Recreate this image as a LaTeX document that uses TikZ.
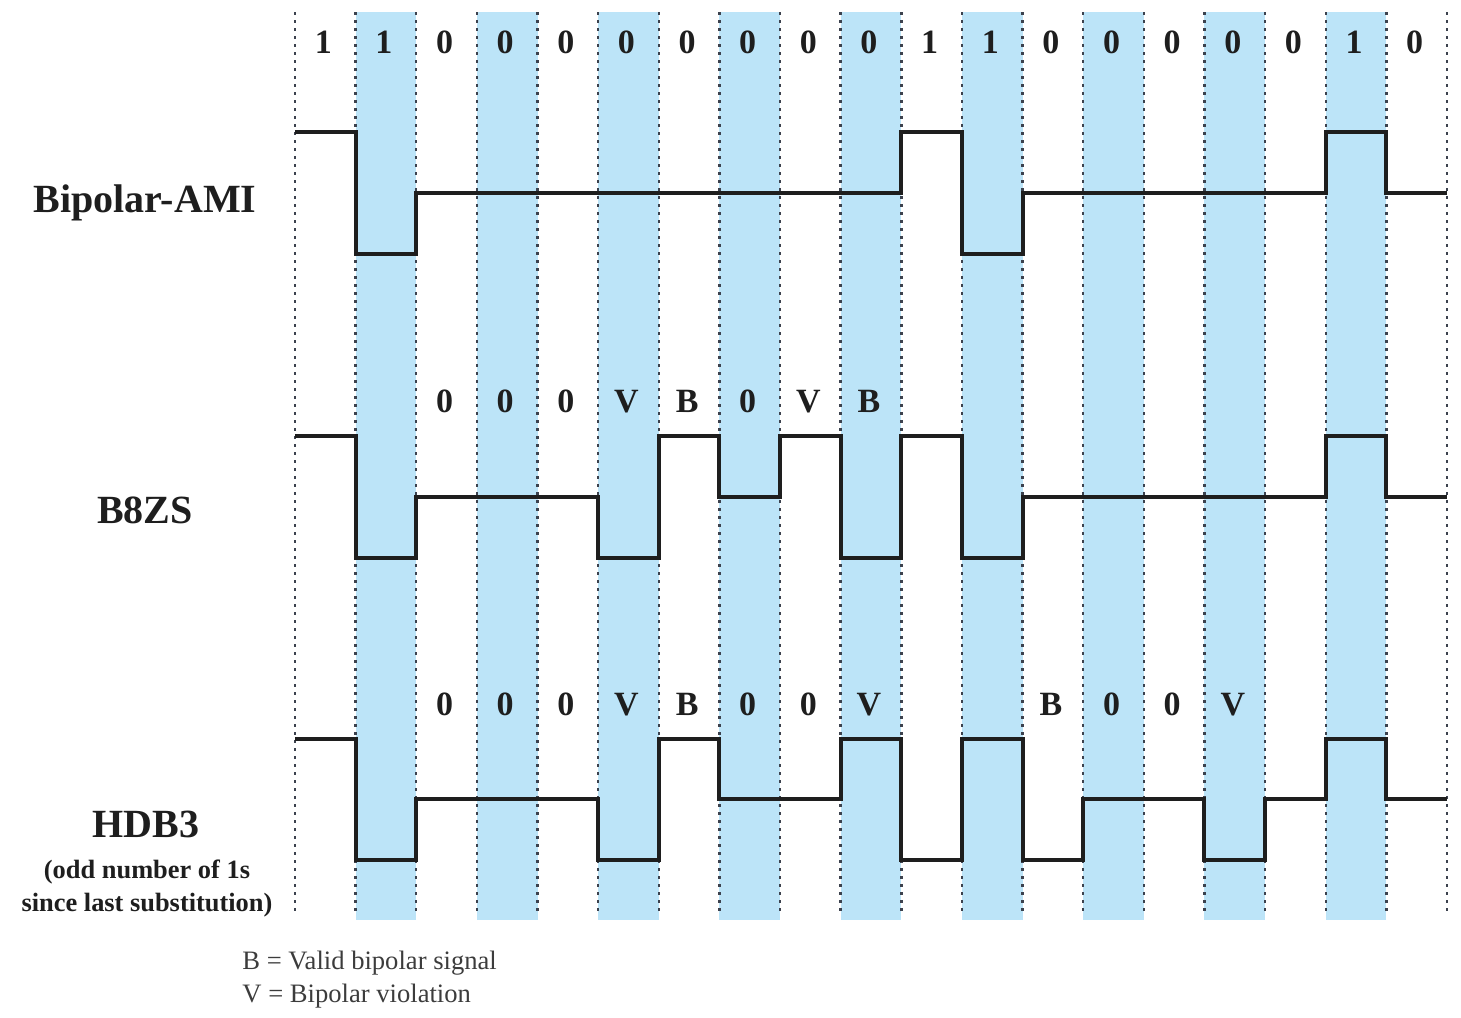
\documentclass[tikz,border=0pt]{standalone}
\usepackage{fontspec}
\setmainfont{Liberation Serif}
\usepackage{tikz}
\definecolor{band}{RGB}{188, 228, 248}
\definecolor{grid}{RGB}{60, 66, 78}
\definecolor{ink}{RGB}{30, 30, 30}
\definecolor{key}{RGB}{60, 60, 60}

\tikzset{
  bitlabel/.style={anchor=base, inner sep=0pt, text=ink,
                   font=\fontsize{17}{20}\selectfont\bfseries},
  codename/.style={anchor=base, inner sep=0pt, text=ink,
                   font=\fontsize{20}{24}\selectfont\bfseries},
  note/.style={anchor=base, inner sep=0pt, text=ink,
               font=\fontsize{13.2}{16}\selectfont\bfseries},
  keytext/.style={anchor=base west, inner sep=0pt, text=key,
                  font=\fontsize{13.3}{16}\selectfont},
  signal/.style={draw=ink, line width=2pt},
  gridline/.style={draw=grid, line width=1.2pt, dash pattern=on 1.5pt off 2.5pt}
}

\begin{document}
\begin{tikzpicture}[x=0.5pt, y=-0.5pt]

        \pgfmathsetmacro{\w}{60.63}
        \pgfmathsetmacro{\dx}{295}
        % levels (high, zero, low) of the three lines
        \pgfmathsetmacro{\ah}{132} \pgfmathsetmacro{\az}{193} \pgfmathsetmacro{\al}{254}
        \pgfmathsetmacro{\bh}{436} \pgfmathsetmacro{\bz}{497} \pgfmathsetmacro{\bl}{558}
        \pgfmathsetmacro{\hh}{739} \pgfmathsetmacro{\hz}{799} \pgfmathsetmacro{\hl}{860}

        \useasboundingbox (0, 0) rectangle (1461, 1017);

        % shaded bit cells
        \foreach \i in {1,3,...,17}
          \fill[band] (\dx + \i*\w, 12) rectangle (\dx + \i*\w + \w, 920);

        % bit boundaries
        \foreach \i in {0,...,19}
          \draw[gridline] (\dx + \i*\w, 12) -- (\dx + \i*\w, 914);

        % data bits
        \foreach \b [count=\i] in {1,1,0,0,0,0,0,0,0,0,1,1,0,0,0,0,0,1,0}
          \node[bitlabel] (bit\i) at (\dx + \i*\w - 0.5*\w - 2, 53) {\b};

        \foreach \b [count=\i from 3] in {0,0,0,V,B,0,V,B}
          \node[bitlabel] (bzs\i) at (\dx + \i*\w - 0.5*\w - 2, 412) {\b};

        \foreach \b/\i in {0/3,0/4,0/5,V/6,B/7,0/8,0/9,V/10,B/13,0/14,0/15,V/16}
          \node[bitlabel] (hdb\i) at (\dx + \i*\w - 0.5*\w - 2, 715) {\b};

        % Bipolar-AMI
        \draw[signal] (\dx, \ah) -| (\dx + 1*\w, \al) -| (\dx + 2*\w, \az)
          -| (\dx + 10*\w, \ah) -| (\dx + 11*\w, \al) -| (\dx + 12*\w, \az)
          -| (\dx + 17*\w, \ah) -| (\dx + 18*\w, \az) -- (\dx + 19*\w, \az);

        % B8ZS
        \draw[signal] (\dx, \bh) -| (\dx + 1*\w, \bl) -| (\dx + 2*\w, \bz)
          -| (\dx + 5*\w, \bl) -| (\dx + 6*\w, \bh) -| (\dx + 7*\w, \bz)
          -| (\dx + 8*\w, \bh) -| (\dx + 9*\w, \bl) -| (\dx + 10*\w, \bh)
          -| (\dx + 11*\w, \bl) -| (\dx + 12*\w, \bz)
          -| (\dx + 17*\w, \bh) -| (\dx + 18*\w, \bz) -- (\dx + 19*\w, \bz);

        % HDB3
        \draw[signal] (\dx, \hh) -| (\dx + 1*\w, \hl) -| (\dx + 2*\w, \hz)
          -| (\dx + 5*\w, \hl) -| (\dx + 6*\w, \hh) -| (\dx + 7*\w, \hz)
          -| (\dx + 9*\w, \hh) -| (\dx + 10*\w, \hl) -| (\dx + 11*\w, \hh)
          -| (\dx + 12*\w, \hl) -| (\dx + 13*\w, \hz) -| (\dx + 15*\w, \hl)
          -| (\dx + 16*\w, \hz) -| (\dx + 17*\w, \hh) -| (\dx + 18*\w, \hz)
          -- (\dx + 19*\w, \hz);

        \node[codename] (aminame) at (145, 212) {Bipolar-AMI};
        \node[codename] (bzsname) at (145, 523) {B8ZS};
        \node[codename] (hdbname) at (146, 837) {HDB3};
        \node[note] (oddnote) at (147, 878) {(odd number of 1s};
        \node[note] (sincenote) at (147, 911) {since last substitution)};

        \node[keytext] (keyb) at (242, 969) {B = Valid bipolar signal};
        \node[keytext] (keyv) at (242, 1002) {V = Bipolar violation};

    \end{tikzpicture}
\end{document}
